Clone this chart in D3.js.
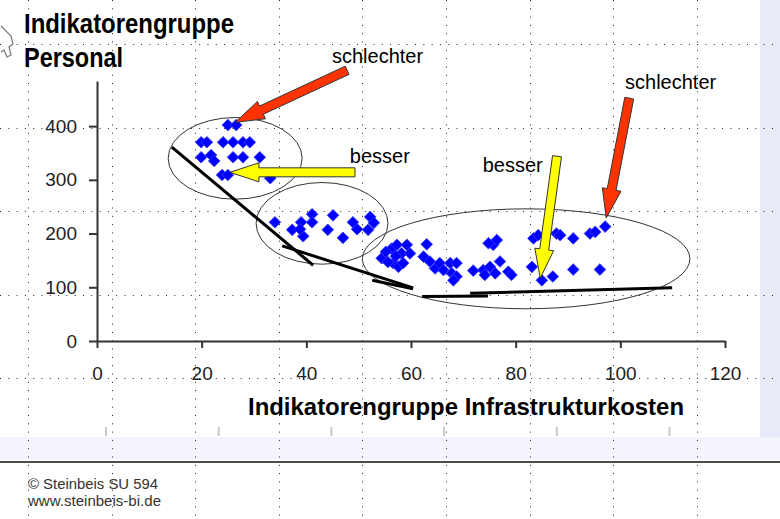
<!DOCTYPE html>
<html>
<head>
<meta charset="utf-8">
<script src="https://cdn.jsdelivr.net/npm/d3@7"></script>
<style>
	body { margin: 0; background: #fff; }
	svg { display: block; font-family: "Liberation Sans", Arial, sans-serif; }
</style>
</head>
<body>
<div id="chart"><svg width="780" height="519"></svg></div>
<script>
// axis values
var xTicks = [0, 20, 40, 60, 80, 100, 120];
var yTicks = [0, 100, 200, 300, 400];
var xMax = 120;
var yMax = 484;

// points [Infrastrukturkosten, Personal]
var groupHigh = [
	[25.0, 402], [26.6, 402],
	[19.9, 370], [21.0, 370], [24.1, 370], [26.0, 370], [27.9, 370], [29.2, 370],
	[19.9, 342], [21.8, 346], [22.4, 335], [26.0, 342], [27.9, 342], [31.1, 342],
	[23.9, 309], [25.0, 309], [33.1, 303]
];
var groupMid = [
	[34.0, 221], [37.3, 207], [39.0, 221], [39.4, 195], [38.8, 208],
	[41.1, 236], [41.1, 221], [45.1, 234], [44.1, 207], [47.0, 192],
	[48.9, 221], [49.7, 208], [52.2, 231], [52.9, 220], [51.8, 207]
];
var groupLow = [
	[54.4, 154], [56.3, 172], [57.3, 179], [58.2, 163], [59.2, 179], [56.6, 145],
	[57.6, 138], [58.5, 145], [59.8, 163], [55.2, 166], [57.1, 158], [55.6, 147],
	[63.0, 180], [62.4, 157], [63.6, 148], [64.6, 135], [65.5, 145], [66.2, 132],
	[67.5, 145], [67.8, 126], [68.7, 145], [68.7, 120], [68.1, 113], [71.9, 131],
	[73.8, 132], [74.1, 123], [75.1, 138], [76.1, 126], [77.0, 148], [75.7, 179],
	[74.8, 182], [76.4, 188], [78.6, 129], [79.2, 123], [83.4, 191], [84.3, 197],
	[83.1, 138], [85.0, 113], [87.1, 120], [87.8, 200], [88.5, 197], [91.0, 191],
	[91.0, 133], [94.2, 200], [95.2, 203], [97.1, 213], [96.1, 133]
];

// hand drawn annotations, in chart units
var trendSegments = [
	[[14.3, 361], [41.3, 141]],
	[[35.4, 177], [60.4, 99]],
	[[52.6, 113], [60.4, 97]],
	[[62.1, 83], [74.7, 84]],
	[[71.3, 89], [109.9, 99]]
];
var ellipses = [
	{ c: [26.4, 340], r: [12.8, 76] },
	{ c: [43.0, 219], r: [12.6, 76] },
	{ c: [82.0, 153], r: [31.3, 93] }
];
var redArrows = [
	[[47.8, 504], [26.4, 407]],
	[[101.7, 452], [97.3, 229]]
];
var yellowArrows = [
	[[49.3, 314], [25.4, 314]],
	[[87.9, 344], [84.7, 117]]
];
var notes = [
	{ text: 'schlechter', at: [44.9, 517] },
	{ text: 'besser', at: [48.3, 331] },
	{ text: 'besser', at: [73.7, 315] },
	{ text: 'schlechter', at: [100.9, 470] }
];

var svg = d3.select('#chart > svg');
var W = 780, H = 519;

// slide background bands
svg.append('rect').attr('x', 760).attr('y', 0).attr('width', 20).attr('height', 437).attr('fill', '#e9ebf9');
svg.append('rect').attr('x', 0).attr('y', 437).attr('width', W).attr('height', 23).attr('fill', '#f4f5fc');

// ruler marks
svg.append('g').selectAll('line')
	.data(d3.range(0, 6))
	.enter().append('line')
	.attr('x1', function(d) { return 106 + d * 112.7 })
	.attr('x2', function(d) { return 106 + d * 112.7 })
	.attr('y1', 427).attr('y2', 436)
	.attr('stroke', '#c8c8c8').attr('stroke-width', 2);

// dotted guide grid
var gridStep = 83.6;
var grid = svg.append('g').attr('class', 'grids');
grid.selectAll('.v')
	.data(d3.range(28, W, gridStep))
	.enter().append('line')
	.attr('x1', function(d) { return Math.round(d) + 0.5 })
	.attr('x2', function(d) { return Math.round(d) + 0.5 })
	.attr('y1', 0).attr('y2', H)
	.attr('stroke', '#222').attr('stroke-width', 1).attr('stroke-dasharray', '1,7.3');
grid.selectAll('.h')
	.data(d3.range(44, 450, gridStep))
	.enter().append('line')
	.attr('x1', 0).attr('x2', W)
	.attr('y1', function(d) { return Math.round(d) + 0.5 })
	.attr('y2', function(d) { return Math.round(d) + 0.5 })
	.attr('stroke', '#222').attr('stroke-width', 1).attr('stroke-dasharray', '1,7.3');

// footer rule
svg.append('line').attr('x1', 0).attr('x2', W).attr('y1', 462).attr('y2', 462)
	.attr('stroke', '#111').attr('stroke-width', 1.5);

// cursor left over from the slide
svg.append('path')
	.attr('d', 'M1,26 L11,36 L13,44 L9,47 L11,55 L7,57 L4,50 L1,52')
	.attr('fill', '#fff').attr('stroke', '#777').attr('stroke-width', 1.2);

var xScale = d3.scaleLinear().domain([0, xMax]).range([97, 725]);
var yScale = d3.scaleLinear().domain([0, yMax]).range([341, 81]);

// axes
var xAxis = svg.append('g').attr('class', 'x axis')
	.attr('transform', 'translate(0,341)')
	.call(d3.axisBottom(xScale).tickValues(xTicks).tickSize(7).tickSizeOuter(0));
var yAxis = svg.append('g').attr('class', 'y axis')
	.attr('transform', 'translate(97,0)')
	.call(d3.axisLeft(yScale).tickValues(yTicks).tickSize(8).tickSizeOuter(0));

svg.selectAll('.axis path, .axis line').attr('stroke', '#333').attr('stroke-width', 2);
svg.selectAll('.axis text')
	.attr('fill', '#222')
	.style('font-size', '19px')
	.style('font-family', '"Liberation Sans", Arial, sans-serif');
xAxis.selectAll('text').attr('y', 39).attr('dy', 0);
yAxis.selectAll('text').attr('x', -20);

// ellipses
svg.append('g').selectAll('ellipse')
	.data(ellipses)
	.enter().append('ellipse')
	.attr('cx', function(d) { return xScale(d.c[0]) })
	.attr('cy', function(d) { return yScale(d.c[1]) })
	.attr('rx', function(d) { return xScale(d.r[0]) - xScale(0) })
	.attr('ry', function(d) { return yScale(0) - yScale(d.r[1]) })
	.attr('fill', 'none').attr('stroke', '#333').attr('stroke-width', 1);

// diamonds
var allPoints = groupHigh.concat(groupMid, groupLow);
var diamond = d3.symbol().type(d3.symbolSquare).size(68);
svg.append('g').attr('class', 'plot').selectAll('path')
	.data(allPoints)
	.enter().append('path')
	.attr('d', diamond)
	.attr('transform', function(d) { return 'translate(' + xScale(d[0]) + ',' + yScale(d[1]) + ') rotate(45)' })
	.attr('fill', '#0000ff')
	.attr('stroke', '#3a3aff').attr('stroke-width', 0.8);

// trend line pieces
svg.append('g').selectAll('line')
	.data(trendSegments)
	.enter().append('line')
	.attr('x1', function(d) { return xScale(d[0][0]) })
	.attr('y1', function(d) { return yScale(d[0][1]) })
	.attr('x2', function(d) { return xScale(d[1][0]) })
	.attr('y2', function(d) { return yScale(d[1][1]) })
	.attr('stroke', '#000').attr('stroke-width', 3);

// block arrows
function arrowPath(d) {
	var x0 = xScale(d[0][0]), y0 = yScale(d[0][1]);
	var x1 = xScale(d[1][0]), y1 = yScale(d[1][1]);
	var dx = x1 - x0, dy = y1 - y0;
	var len = Math.sqrt(dx * dx + dy * dy);
	var ux = dx / len, uy = dy / len;
	var nx = -uy, ny = ux;
	var shaft = 4.5, head = 9.5, headLen = 29;
	var bx = x1 - ux * headLen, by = y1 - uy * headLen;
	var pts = [
		[x0 + nx * shaft, y0 + ny * shaft],
		[bx + nx * shaft, by + ny * shaft],
		[bx + nx * head, by + ny * head],
		[x1, y1],
		[bx - nx * head, by - ny * head],
		[bx - nx * shaft, by - ny * shaft],
		[x0 - nx * shaft, y0 - ny * shaft]
	];
	return 'M' + pts.join('L') + 'Z';
}
svg.append('g').selectAll('path')
	.data(redArrows)
	.enter().append('path')
	.attr('d', arrowPath)
	.attr('fill', '#ff3300').attr('stroke', '#333').attr('stroke-width', 1);
svg.append('g').selectAll('path')
	.data(yellowArrows)
	.enter().append('path')
	.attr('d', arrowPath)
	.attr('fill', '#ffff00').attr('stroke', '#333').attr('stroke-width', 1);

// annotation words
svg.append('g').selectAll('text')
	.data(notes)
	.enter().append('text')
	.attr('x', function(d) { return xScale(d.at[0]) })
	.attr('y', function(d) { return yScale(d.at[1]) })
	.style('font-size', '20px')
	.attr('fill', '#000')
	.text(function(d) { return d.text });

// titles
svg.append('text').attr('x', 24).attr('y', 33)
	.attr('textLength', 210).attr('lengthAdjust', 'spacingAndGlyphs')
	.style('font-size', '28px').style('font-weight', 'bold')
	.text('Indikatorengruppe');
svg.append('text').attr('x', 24).attr('y', 67)
	.attr('textLength', 99).attr('lengthAdjust', 'spacingAndGlyphs')
	.style('font-size', '28px').style('font-weight', 'bold')
	.text('Personal');
svg.append('text').attr('x', 248).attr('y', 415)
	.attr('textLength', 436).attr('lengthAdjust', 'spacingAndGlyphs')
	.style('font-size', '24px').style('font-weight', 'bold')
	.text('Indikatorengruppe Infrastrukturkosten');

// footer
svg.append('text').attr('x', 28).attr('y', 489)
	.attr('textLength', 130).attr('lengthAdjust', 'spacingAndGlyphs')
	.style('font-size', '15px').attr('fill', '#333')
	.text('\u00a9 Steinbeis SU 594');
svg.append('text').attr('x', 28).attr('y', 506)
	.attr('textLength', 133).attr('lengthAdjust', 'spacingAndGlyphs')
	.style('font-size', '15px').attr('fill', '#333')
	.text('www.steinbeis-bi.de');
</script>
</body>
</html>
